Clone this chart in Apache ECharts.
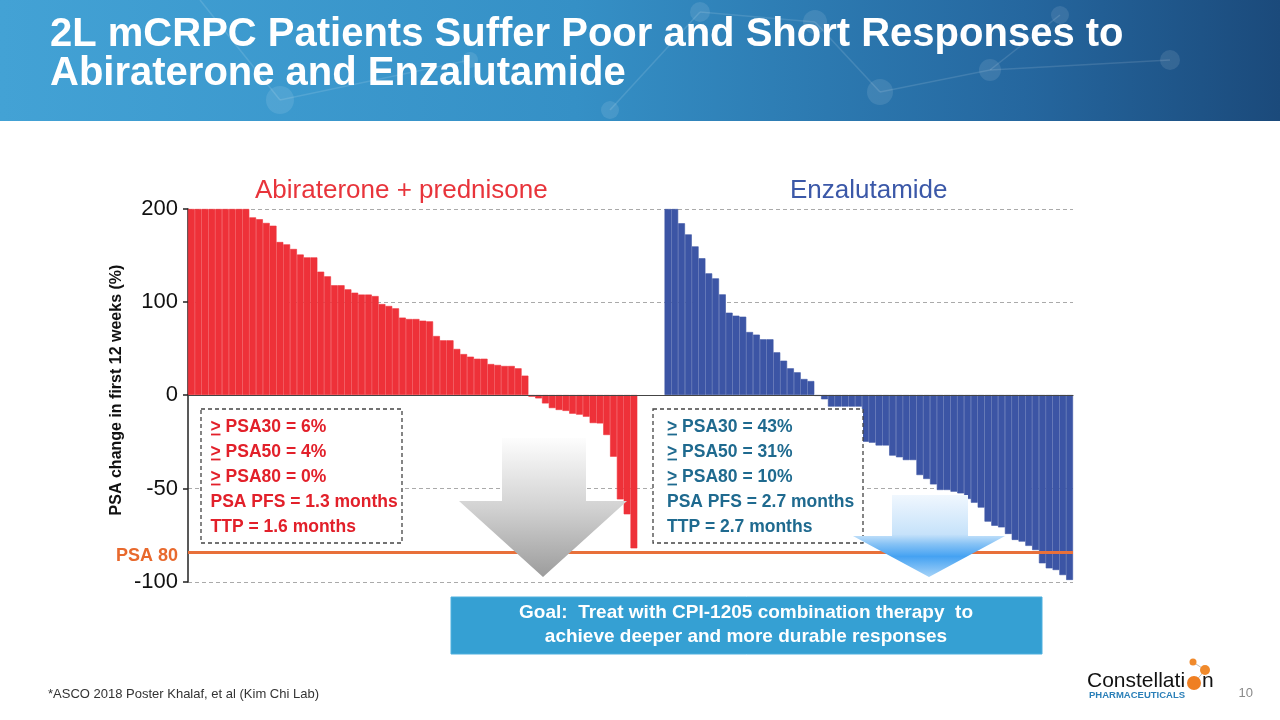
<!DOCTYPE html>
<html>
<head>
<meta charset="utf-8">
<script src="https://cdn.jsdelivr.net/npm/echarts@6/dist/echarts.min.js"></script>
<style>html,body{margin:0;padding:0;background:#fff}#c{width:1280px;height:720px}</style>
</head>
<body>
<div id="c"></div>
<script>
// ---- data ----
const abiValues = [200,200,200,200,200,200,200,200,200,
  191,189,185,182,164.5,162,157,151,148,148,
  132.6,127.6,118,118,113.6,110,108,108,106.4,97.8,
  95.7,93.2,83.2,81.7,81.7,79.9,79.2,63.4,58.8,58.8,
  49.5,44,41.2,39,39,33.3,32.3,31.2,31.2,28.7,20.8,
  -0.9,-1.8,-4.5,-7,-8,-8.5,-10,-10.5,-11.6,-15,-15.2,-21.4,-33,-55.8,-63.8,-82];
const enzaValues = [200,200,184.6,172.7,159.8,147,130.8,125.4,108.2,88.5,85.3,84.2,67.7,64.9,59.9,59.9,45.9,36.9,28.7,24.4,17.2,15,
  -0.5,-2.3,-6.2,-6.2,-6.2,-6.2,-6.2,-25,-25.5,-27,-27,-32.4,-33.3,-34.8,-34.8,-42.8,-44.9,-47.8,
  -50.8,-50.8,-51.7,-52.6,-55.6,-57.6,-60.2,-67.7,-69.9,-70.8,-74.3,-77.5,-78.4,-80.7,-82.9,
  -90,-92.7,-93.6,-96.3,-98.9];
const abiCats = abiValues.map((v, i) => 'A' + (i + 1));
const gapCats = ['gap1', 'gap2', 'gap3', 'gap4'];
const enzaCats = enzaValues.map((v, i) => 'E' + (i + 1));
const categories = abiCats.concat(gapCats, enzaCats);
const upperTicks = [0, 100, 200];
const lowerTicks = [-100, -50, 0];
const psa80Level = -84;
const abiStats = ['PSA30 = 6%', 'PSA50 = 4%', 'PSA80 = 0%', 'PSA PFS = 1.3 months', 'TTP = 1.6 months'];
const enzaStats = ['PSA30 = 43%', 'PSA50 = 31%', 'PSA80 = 10%', 'PSA PFS = 2.7 months', 'TTP = 2.7 months'];

// ---- build series arrays ----
function place(values, offset, keepPositive) {
  const arr = categories.map(() => '-');
  values.forEach((v, i) => {
    if (keepPositive ? v > 0 : v < 0) arr[offset + i] = v;
  });
  return arr;
}
const enzaOffset = abiCats.length + gapCats.length;
const RED = '#ee3139', BLUE = '#3c55a5';
const FONT = '"Liberation Sans", Arial, sans-serif';

const chart = echarts.init(document.getElementById('c'), null, {renderer: 'canvas'});

function barSeries(name, data, color, gi, extra) {
  return Object.assign({
    name, type: 'bar', data, xAxisIndex: gi, yAxisIndex: gi,
    barGap: '-100%', barCategoryGap: '0%',
    itemStyle: {color, borderColor: color, borderWidth: 0.6}, silent: true
  }, extra || {});
}

// stats text graphics
const statGraphics = [];
const lineYs = [427, 452, 477, 502, 527];
function addStats(lines, x, color) {
  lines.forEach((t, i) => {
    const hasGe = i < 3;
    statGraphics.push({
      type: 'text', z: 20,
      style: {text: (hasGe ? '> ' : '') + t, x: x, y: lineYs[i], fill: color,
        font: 'bold 17.5px ' + FONT, verticalAlign: 'middle', align: 'left'}
    });
    if (hasGe) {
      statGraphics.push({type: 'line', z: 20,
        shape: {x1: x + 0.5, y1: lineYs[i] + 7.5, x2: x + 10, y2: lineYs[i] + 7.5},
        style: {stroke: color, lineWidth: 1.8}});
    }
  });
}
addStats(abiStats, 210.5, '#e2202a');
addStats(enzaStats, 667, '#1f6a8f');

const net = [[280,100,14],[700,12,10],[815,22,12],[880,92,13],[990,70,11],[1060,15,9],[1170,60,10],[470,60,8],[610,110,9]];
const netLines = [[280,100,470,60],[700,12,815,22],[815,22,880,92],[880,92,990,70],[990,70,1060,15],[990,70,1170,60],[610,110,700,12],[200,0,280,100]];

const option = {
  animation: false,
  grid: [
    {left: 188, top: 209, width: 885, height: 186},
    {left: 188, top: 395, width: 885, height: 187}
  ],
  xAxis: [
    {type: 'category', gridIndex: 0, data: categories, z: 6,
      axisLine: {show: true, lineStyle: {color: '#444', width: 1.2}},
      axisTick: {show: false}, axisLabel: {show: false}, splitLine: {show: false}},
    {type: 'category', gridIndex: 1, data: categories,
      axisLine: {show: false}, axisTick: {show: false}, axisLabel: {show: false}, splitLine: {show: false}}
  ],
  yAxis: [
    {type: 'value', gridIndex: 0, min: upperTicks[0], max: upperTicks[2], interval: 100,
      axisLine: {show: true, lineStyle: {color: '#222', width: 1.5}},
      axisTick: {show: true, length: 5, lineStyle: {color: '#222', width: 1.5}},
      axisLabel: {fontSize: 22, color: '#111', fontFamily: FONT, margin: 10},
      splitLine: {show: true, lineStyle: {color: '#aaa', type: [4, 3], width: 1}}},
    {type: 'value', gridIndex: 1, min: lowerTicks[0], max: lowerTicks[2], interval: 50,
      axisLine: {show: true, lineStyle: {color: '#222', width: 1.5}},
      axisTick: {show: true, length: 5, lineStyle: {color: '#222', width: 1.5}},
      axisLabel: {fontSize: 22, color: '#111', fontFamily: FONT, margin: 10,
        formatter: v => (v === 0 ? '' : String(v))},
      splitLine: {show: true, lineStyle: {color: '#aaa', type: [4, 3], width: 1}}}
  ],
  series: [
    barSeries('Abiraterone +', place(abiValues, 0, true), RED, 0),
    barSeries('Enzalutamide +', place(enzaValues, enzaOffset, true), BLUE, 0),
    barSeries('Abiraterone -', place(abiValues, 0, false), RED, 1),
    barSeries('Enzalutamide -', place(enzaValues, enzaOffset, false), BLUE, 1, {
      markLine: {silent: true, symbol: 'none', label: {show: false}, z: 8,
        lineStyle: {color: '#e8703a', width: 3, type: 'solid'},
        data: [{yAxis: psa80Level}]}
    })
  ],
  graphic: [
    // banner
    {type: 'rect', z: 0, shape: {x: 0, y: 0, width: 1280, height: 121},
      style: {fill: {type: 'linear', x: 0, y: 0, x2: 1, y2: 0, colorStops: [
        {offset: 0, color: '#43a2d5'}, {offset: 0.45, color: '#3590c6'},
        {offset: 0.8, color: '#25679f'}, {offset: 1, color: '#1b4a7b'}]}}},
    ...netLines.map(l => ({type: 'line', z: 1, shape: {x1: l[0], y1: l[1], x2: l[2], y2: l[3]},
      style: {stroke: 'rgba(255,255,255,0.12)', lineWidth: 1.5}})),
    ...net.map(c => ({type: 'circle', z: 1, shape: {cx: c[0], cy: c[1], r: c[2]},
      style: {fill: 'rgba(255,255,255,0.10)'}})),
    {type: 'text', z: 2, style: {text: '2L mCRPC Patients Suffer Poor and Short Responses to',
      x: 50, y: 35, fill: '#fff', font: 'bold 40px ' + FONT, verticalAlign: 'middle'}},
    {type: 'text', z: 2, style: {text: 'Abiraterone and Enzalutamide',
      x: 50, y: 74, fill: '#fff', font: 'bold 40px ' + FONT, verticalAlign: 'middle'}},
    // chart headers
    {type: 'text', z: 5, style: {text: 'Abiraterone + prednisone', x: 255, y: 191,
      fill: '#e8343b', font: '26px ' + FONT, verticalAlign: 'middle'}},
    {type: 'text', z: 5, style: {text: 'Enzalutamide', x: 790, y: 191,
      fill: '#3b58a8', font: '26px ' + FONT, verticalAlign: 'middle'}},
    // y axis title
    {type: 'text', z: 5, x: 117, y: 390, rotation: Math.PI / 2,
      style: {text: 'PSA change in first 12 weeks (%)', x: 0, y: 0, fill: '#111',
        font: 'bold 16px ' + FONT, align: 'center', verticalAlign: 'middle'}},
    {type: 'text', z: 5, style: {text: 'PSA 80', x: 178, y: 556, fill: '#e8692d',
      font: 'bold 18px ' + FONT, align: 'right', verticalAlign: 'middle'}},
    // stat boxes
    {type: 'rect', z: 15, shape: {x: 201, y: 409, width: 201, height: 134},
      style: {fill: '#fff', stroke: '#444', lineWidth: 1.3, lineDash: [4, 3]}},
    {type: 'rect', z: 15, shape: {x: 653, y: 409, width: 210, height: 134},
      style: {fill: '#fff', stroke: '#444', lineWidth: 1.3, lineDash: [4, 3]}},
    ...statGraphics,
    // arrows
    {type: 'polygon', z: 25, shape: {points: [[502,438],[586,438],[586,501],[627,501],[543,577],[459,501],[502,501]]},
      style: {fill: {type: 'linear', x: 0, y: 0, x2: 0, y2: 1, colorStops: [
        {offset: 0, color: '#fdfdfd'}, {offset: 0.5, color: '#d2d2d2'}, {offset: 1, color: '#9c9c9c'}]}}},
    {type: 'polygon', z: 25, shape: {points: [[892,495],[968,495],[968,536],[1005,536],[929,577],[853,536],[892,536]]},
      style: {fill: {type: 'linear', x: 0, y: 0, x2: 0, y2: 1, colorStops: [
        {offset: 0, color: '#f0f7fe'}, {offset: 0.48, color: '#c6e2fa'}, {offset: 0.6, color: '#86c2f5'},
        {offset: 0.75, color: '#45a2f2'}, {offset: 1, color: '#a6d3f8'}]}}},
    // goal box
    {type: 'rect', z: 25, shape: {x: 451, y: 597, width: 591, height: 57},
      style: {fill: '#35a0d3', stroke: '#4fb0de', lineWidth: 1}},
    {type: 'text', z: 26, style: {text: 'Goal:  Treat with CPI-1205 combination therapy  to', x: 746, y: 613,
      fill: '#fff', font: 'bold 19px ' + FONT, align: 'center', verticalAlign: 'middle'}},
    {type: 'text', z: 26, style: {text: 'achieve deeper and more durable responses', x: 746, y: 637,
      fill: '#fff', font: 'bold 19px ' + FONT, align: 'center', verticalAlign: 'middle'}},
    // footer
    {type: 'text', z: 5, style: {text: '*ASCO 2018 Poster Khalaf, et al (Kim Chi Lab)', x: 48, y: 694,
      fill: '#333', font: '13px ' + FONT, verticalAlign: 'middle'}},
    {type: 'text', z: 5, style: {text: '10', x: 1253, y: 693, fill: '#8a8a8a',
      font: '13px ' + FONT, align: 'right', verticalAlign: 'middle'}},
    // logo
    {type: 'text', z: 5, style: {text: 'Constellati', x: 1087, y: 681, fill: '#111',
      font: '21px ' + FONT, verticalAlign: 'middle'}},
    {type: 'line', z: 5, shape: {x1: 1193, y1: 662, x2: 1205, y2: 670}, style: {stroke: '#bbb', lineWidth: 1}},
    {type: 'line', z: 5, shape: {x1: 1205, y1: 670, x2: 1195, y2: 682}, style: {stroke: '#bbb', lineWidth: 1}},
    {type: 'circle', z: 6, shape: {cx: 1193, cy: 662, r: 3.5}, style: {fill: '#f08a2c'}},
    {type: 'circle', z: 6, shape: {cx: 1205, cy: 670, r: 5}, style: {fill: '#f08a2c'}},
    {type: 'circle', z: 6, shape: {cx: 1194, cy: 683, r: 7}, style: {fill: '#ef7f22'}},
    {type: 'text', z: 5, style: {text: 'n', x: 1202, y: 681, fill: '#111',
      font: '21px ' + FONT, verticalAlign: 'middle'}},
    {type: 'text', z: 5, style: {text: 'PHARMACEUTICALS', x: 1089, y: 695, fill: '#2a7fb8',
      font: 'bold 9.5px "Liberation Sans Narrow", ' + FONT, verticalAlign: 'middle'}}
  ]
};
chart.setOption(option);
</script>
</body>
</html>
